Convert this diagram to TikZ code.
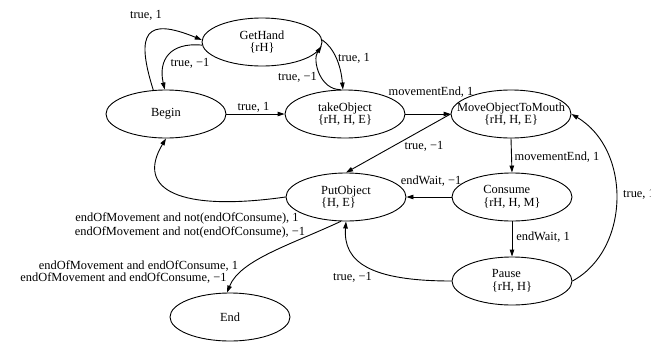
\documentclass[tikz,border=0pt]{standalone}
\usepackage{fontspec}
\setmainfont{Liberation Serif}
\newfontfamily\tnrfont{Liberation Serif}
\usetikzlibrary{shapes.geometric,arrows.meta}
\begin{document}
\begin{tikzpicture}[x=1pt,y=-1pt,
  every node/.style={font=\tnrfont\fontsize{12.4}{12.5}\selectfont},
  state/.style={draw,ellipse,line width=0.9pt,minimum width=120pt,minimum height=48pt,inner sep=-16pt,align=center},
  lstate/.style={state,align=left},
  edge/.style={draw,line width=0.9pt,-{Triangle[length=7pt,width=4.5pt]}},
  lbl/.style={inner sep=0pt}]
\useasboundingbox (0,0) rectangle (651,341);
% states
\node[state]  (gethand) at (262,42)  {GetHand\\\{rH\}};
\node[state]  (begin)   at (166,114) {Begin};
\node[state]  (take)    at (345,114) {takeObject\\\{rH, H, E\}};
\node[state]  (move)    at (511,114) {MoveObjectToMouth\\\{rH, H, E\}};
\node[lstate] (put)     at (346,197) {PutObject\\\{H, E\}};
\node[lstate] (consume) at (512,197) {Consume\\\{rH, H, M\}};
\node[lstate] (pause)   at (512,281) {Pause\\\{rH, H\}};
\node[state]  (endst)   at (230,317) {End};
% edges
\draw[edge] (begin.118) .. controls (135,32) and (146,17) .. (gethand.178);
\draw[edge] (gethand.183) .. controls (170,42) and (158,60) .. (begin.93);
\draw[edge] (begin.east) -- (take.west);
\draw[edge] (gethand.2) .. controls (334,48) and (341,65) .. (take.95);
\draw[edge] (take.100) .. controls (320,90) and (312,60) .. (gethand.356);
\draw[edge] (take.east) -- (move.west);
\draw[edge] (move.west) -- (put.north);
\draw[edge] (move.south) -- (consume.north);
\draw[edge] (consume.west) -- (put.east);
\draw[edge] (consume.south) -- (pause.north);
\draw[edge] (pause.west) .. controls (370,281) and (343,262) .. (put.south);
\draw[edge] (pause.east) .. controls (630,250) and (632,150) .. (move.east);
\draw[edge] (put.west) .. controls (180,212) and (135,190) .. (begin.south);
\draw[edge] (put.258) .. controls (290,245) and (240,260) .. (endst.97);
% labels
\node[lbl] (l1)  at (146,15)  {true, 1};
\node[lbl] (l2)  at (190,63)  {true, −1};
\node[lbl] (l3)  at (253.5,107) {true, 1};
\node[lbl] (l4)  at (297.5,77) {true, −1};
\node[lbl] (l5)  at (354,58)  {true, 1};
\node[lbl] (l6)  at (431,92)  {movementEnd, 1};
\node[lbl] (l7)  at (424,146) {true, −1};
\node[lbl] (l8)  at (557,157) {movementEnd, 1};
\node[lbl] (l9)  at (431,181) {endWait, −1};
\node[lbl] (l10) at (543,237) {endWait, 1};
\node[lbl] (l11) at (352.5,277) {true, −1};
\node[lbl,anchor=west] (l12) at (623,194) {true, 1};
\node[lbl] (l13) at (187,218) {endOfMovement and not(endOfConsume), 1};
\node[lbl] (l14) at (190,232) {endOfMovement and not(endOfConsume), −1};
\node[lbl] (l15) at (138.5,266) {endOfMovement and endOfConsume, 1};
\node[lbl] (l16) at (123.5,278) {endOfMovement and endOfConsume, −1};
\end{tikzpicture}
\end{document}
